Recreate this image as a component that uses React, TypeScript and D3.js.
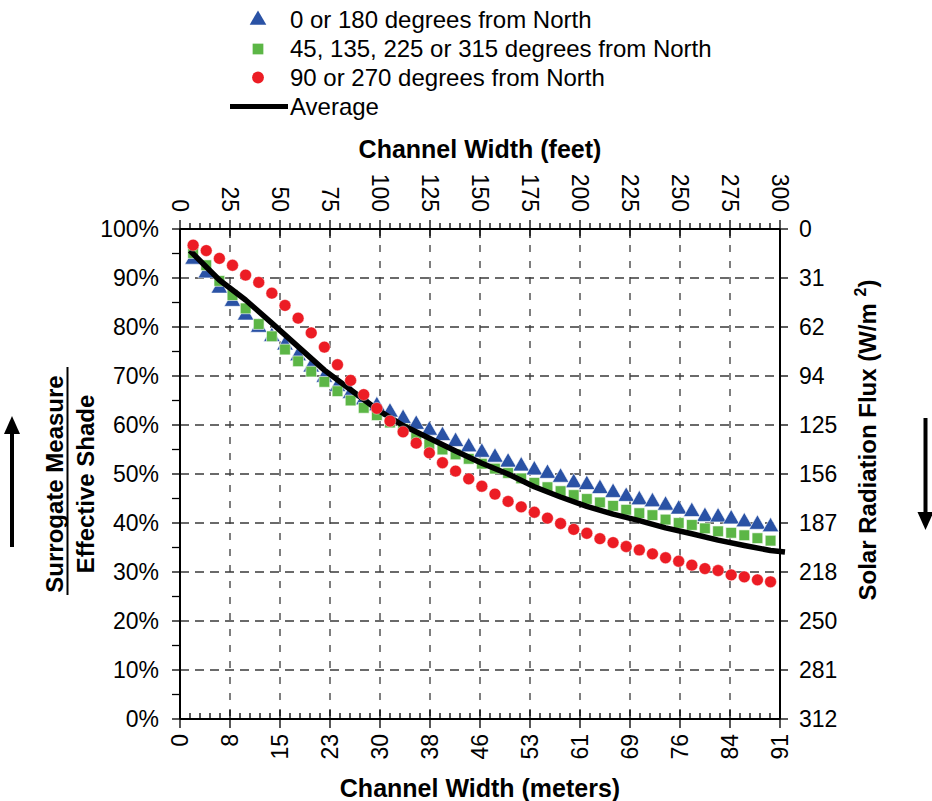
import React, { useEffect, useRef } from 'react';
import * as d3 from 'd3';

// channel width of each marker, meters
const meters = [2, 4, 6, 8, 10, 12, 14, 16, 18, 20, 22, 24, 26, 28, 30, 32, 34, 36, 38, 40, 42, 44, 46,
  48, 50, 52, 54, 56, 58, 60, 62, 64, 66, 68, 70, 72, 74, 76, 78, 80, 82, 84, 86, 88, 90];

// effective shade (%) by orientation
const northSouth = [93.8, 91.0, 87.9, 85.2, 82.4, 79.9, 78.0, 76.3, 74.1, 71.8, 69.7, 67.8, 66.4, 65.1, 63.9,
  62.6, 61.3, 60.1, 58.9, 57.8, 56.6, 55.5, 54.4, 53.4, 52.4, 51.6, 50.8, 50.1, 49.3, 48.2, 47.8, 47.0, 46.2,
  45.4, 44.7, 44.3, 43.6, 42.8, 42.3, 41.3, 41.2, 40.8, 40.2, 39.7, 39.2];
const diagonal = [95.1, 92.6, 89.4, 86.5, 83.8, 80.6, 78.1, 75.4, 73.0, 70.9, 68.8, 66.9, 65.0, 63.5, 62.0,
  60.5, 59.2, 57.4, 56.1, 55.0, 54.0, 53.1, 52.1, 51.1, 50.2, 49.1, 48.2, 47.3, 46.5, 45.7, 44.9, 44.2, 43.5,
  42.7, 42.0, 41.6, 40.7, 40.0, 39.6, 38.9, 38.3, 38.0, 37.5, 36.9, 36.4];
const eastWest = [96.7, 95.6, 94.0, 92.6, 90.6, 89.1, 86.9, 84.4, 81.8, 78.8, 75.9, 72.3, 69.1, 66.2, 63.4,
  60.8, 58.6, 56.3, 54.3, 52.3, 50.6, 49.0, 47.5, 45.9, 44.4, 43.3, 42.2, 41.0, 39.9, 38.7, 37.9, 36.8, 36.0,
  35.2, 34.5, 33.7, 32.9, 32.2, 31.4, 30.7, 30.3, 29.4, 29.0, 28.4, 28.0];

// average line
const avgMeters = [1.5, 6, 10, 14, 18, 22, 26, 30, 34, 38, 42, 46, 50, 54, 58, 62, 66, 70, 74, 78, 82, 86, 90, 92.2];
const avgShade = [95.6, 89.6, 85.5, 80.8, 76.0, 71.2, 67.2, 63.2, 59.9, 57.3, 54.7, 52.2, 50.0, 47.4, 45.3,
  43.4, 41.8, 40.5, 39.0, 37.8, 36.5, 35.4, 34.4, 34.1];

// axes
const feetTicks = [0, 25, 50, 75, 100, 125, 150, 175, 200, 225, 250, 275, 300];
const meterLabels = ['0', '8', '15', '23', '30', '38', '46', '53', '61', '69', '76', '84', '91'];
const pctTicks = [0, 10, 20, 30, 40, 50, 60, 70, 80, 90, 100];
// right axis, top to bottom
const fluxLabels = ['0', '31', '62', '94', '125', '156', '187', '218', '250', '281', '312'];

const legendLabels = ['0 or 180 degrees from North', '45, 135, 225 or 315 degrees from North',
  '90 or 270 degrees from North', 'Average'];

const FONT = "'Liberation Sans', Arial, Helvetica, sans-serif";
const BLUE = '#2a52a5';
const GREEN = '#5cb646';
const RED = '#ec1c24';

const App = () => {
  const chartRef = useRef<SVGSVGElement>(null);

  useEffect(() => {
    document.body.style.margin = '0';
    const width = 932;
    const height = 801;
    const plot = { left: 180, right: 780, top: 229, bottom: 719 };

    const svg = d3.select(chartRef.current)
      .attr('width', width)
      .attr('height', height)
      .style('font-family', FONT);
    svg.selectAll('*').remove();

    const x = d3.scaleLinear().domain([0, 300]).range([plot.left, plot.right]);
    const y = d3.scaleLinear().domain([0, 100]).range([plot.bottom, plot.top]);
    const yFlux = d3.scalePoint<string>().domain(fluxLabels).range([plot.top, plot.bottom]);
    const xm = (m: number) => x(m / 0.3048);

    // grid
    svg.append('g').selectAll('line')
      .data(feetTicks.slice(1, -1))
      .join('line')
      .attr('x1', d => x(d)).attr('x2', d => x(d))
      .attr('y1', plot.top).attr('y2', plot.bottom)
      .attr('stroke', '#3a3a3a').attr('stroke-width', 1.3)
      .attr('stroke-dasharray', '7,9');
    svg.append('g').selectAll('line')
      .data(pctTicks.slice(1, -1))
      .join('line')
      .attr('x1', plot.left).attr('x2', plot.right)
      .attr('y1', d => y(d)).attr('y2', d => y(d))
      .attr('stroke', '#3a3a3a').attr('stroke-width', 1.3)
      .attr('stroke-dasharray', '9,6');

    // axis lines
    const frame = svg.append('g').attr('stroke', '#000').attr('stroke-width', 2);
    frame.append('line').attr('x1', plot.left).attr('x2', plot.right).attr('y1', plot.top).attr('y2', plot.top);
    frame.append('line').attr('x1', plot.left).attr('x2', plot.right).attr('y1', plot.bottom).attr('y2', plot.bottom);
    frame.append('line').attr('x1', plot.left).attr('x2', plot.left).attr('y1', plot.top).attr('y2', plot.bottom);
    frame.append('line').attr('x1', plot.right).attr('x2', plot.right).attr('y1', plot.top).attr('y2', plot.bottom);

    // minor feet ticks every 5 ft
    const minorFeet = d3.range(0, 301, 5).filter(f => f % 25 !== 0);
    const ticks = svg.append('g').attr('stroke', '#000').attr('stroke-width', 1.3);
    minorFeet.forEach(f => {
      ticks.append('line').attr('x1', x(f)).attr('x2', x(f)).attr('y1', plot.top - 6).attr('y2', plot.top);
      ticks.append('line').attr('x1', x(f)).attr('x2', x(f)).attr('y1', plot.bottom - 6).attr('y2', plot.bottom);
    });
    feetTicks.forEach(f => {
      ticks.append('line').attr('x1', x(f)).attr('x2', x(f)).attr('y1', plot.top - 9).attr('y2', plot.top + 9);
      ticks.append('line').attr('x1', x(f)).attr('x2', x(f)).attr('y1', plot.bottom - 9).attr('y2', plot.bottom + 9);
    });
    d3.range(0, 101, 5).forEach(p => {
      ticks.append('line').attr('x1', plot.left - 8).attr('x2', plot.left).attr('y1', y(p)).attr('y2', y(p));
    });
    fluxLabels.forEach(f => {
      ticks.append('line').attr('x1', plot.right).attr('x2', plot.right + 8)
        .attr('y1', yFlux(f)!).attr('y2', yFlux(f)!);
    });

    // tick labels
    const labels = svg.append('g').attr('font-size', 23).attr('fill', '#000');
    labels.selectAll('text.top')
      .data(feetTicks)
      .join('text')
      .attr('class', 'top')
      .attr('transform', d => `translate(${x(d)},${plot.top - 17}) rotate(90)`)
      .attr('text-anchor', 'end')
      .attr('dy', '0.35em')
      .text(d => d);
    labels.selectAll('text.bottom')
      .data(feetTicks)
      .join('text')
      .attr('class', 'bottom')
      .attr('transform', d => `translate(${x(d)},${plot.bottom + 15}) rotate(-90)`)
      .attr('text-anchor', 'end')
      .attr('dy', '0.35em')
      .text((_, i) => meterLabels[i]);
    labels.selectAll('text.left')
      .data(pctTicks)
      .join('text')
      .attr('class', 'left')
      .attr('x', plot.left - 21)
      .attr('y', d => y(d))
      .attr('text-anchor', 'end')
      .attr('dy', '0.35em')
      .text(d => `${d}%`);
    labels.selectAll('text.right')
      .data(fluxLabels)
      .join('text')
      .attr('class', 'right')
      .attr('x', plot.right + 19)
      .attr('y', d => yFlux(d)!)
      .attr('dy', '0.35em')
      .text(d => d);

    // axis titles
    const titles = svg.append('g').attr('font-size', 25).attr('font-weight', 'bold').attr('fill', '#000');
    titles.append('text').attr('x', 480).attr('y', 158).attr('text-anchor', 'middle').text('Channel Width (feet)');
    titles.append('text').attr('x', 480).attr('y', 797).attr('text-anchor', 'middle').text('Channel Width (meters)');
    titles.append('text').attr('font-size', 24).attr('text-anchor', 'middle')
      .attr('transform', 'translate(63,484) rotate(-90)').text('Surrogate Measure');
    titles.append('text').attr('font-size', 24).attr('text-anchor', 'middle')
      .attr('transform', 'translate(94,484) rotate(-90)').text('Effective Shade');
    svg.append('line').attr('x1', 67.5).attr('x2', 67.5).attr('y1', 367).attr('y2', 595)
      .attr('stroke', '#000').attr('stroke-width', 2);
    const flux = titles.append('text').attr('font-size', 24).attr('text-anchor', 'middle')
      .attr('transform', 'translate(876,440) rotate(-90)');
    flux.append('tspan').text('Solar Radiation Flux (W/m ');
    flux.append('tspan').attr('font-size', 16).attr('dy', '-0.6em').text('2');
    flux.append('tspan').attr('dy', '0.4em').text(')');

    // arrows
    const arrows = svg.append('g').attr('fill', '#000').attr('stroke', '#000');
    arrows.append('line').attr('x1', 12).attr('x2', 12).attr('y1', 547).attr('y2', 432).attr('stroke-width', 4);
    arrows.append('path').attr('d', 'M12,416 L4,434 L20,434 Z').attr('stroke', 'none');
    arrows.append('line').attr('x1', 925.5).attr('x2', 925.5).attr('y1', 418).attr('y2', 514).attr('stroke-width', 4);
    arrows.append('path').attr('d', 'M925.5,530 L917.5,512 L933.5,512 Z').attr('stroke', 'none');

    // series
    const tri = d3.symbol().type(d3.symbolTriangle).size(120)();
    const sq = d3.symbol().type(d3.symbolSquare).size(115)();
    const dot = d3.symbol().type(d3.symbolCircle).size(110)();

    svg.append('g').selectAll('path')
      .data(meters)
      .join('path')
      .attr('d', tri)
      .attr('transform', (d, i) => `translate(${xm(d)},${y(northSouth[i])})`)
      .attr('fill', BLUE).attr('stroke', '#fff').attr('stroke-width', 0.6);
    svg.append('g').selectAll('path')
      .data(meters)
      .join('path')
      .attr('d', sq)
      .attr('transform', (d, i) => `translate(${xm(d)},${y(diagonal[i])})`)
      .attr('fill', GREEN).attr('stroke', '#fff').attr('stroke-width', 0.6);

    const line = d3.line<number>()
      .x(d => xm(d))
      .y((_, i) => y(avgShade[i]));
    svg.append('path')
      .datum(avgMeters)
      .attr('d', line)
      .attr('fill', 'none').attr('stroke', '#000').attr('stroke-width', 5.5)
      .attr('stroke-linejoin', 'round');

    svg.append('g').selectAll('path')
      .data(meters)
      .join('path')
      .attr('d', dot)
      .attr('transform', (d, i) => `translate(${xm(d)},${y(eastWest[i])})`)
      .attr('fill', RED).attr('stroke', '#fff').attr('stroke-width', 0.4);

    // legend
    const legend = svg.append('g');
    const rows = [20, 49, 77.5, 106.5];
    legend.append('path').attr('d', tri).attr('transform', `translate(258,${rows[0]})`).attr('fill', BLUE);
    legend.append('path').attr('d', sq).attr('transform', `translate(258,${rows[1]})`).attr('fill', GREEN);
    legend.append('path').attr('d', dot).attr('transform', `translate(258,${rows[2]})`).attr('fill', RED);
    legend.append('line').attr('x1', 230).attr('x2', 288).attr('y1', rows[3]).attr('y2', rows[3])
      .attr('stroke', '#000').attr('stroke-width', 5);
    legend.selectAll('text')
      .data(legendLabels)
      .join('text')
      .attr('x', 290)
      .attr('y', (_, i) => rows[i])
      .attr('dy', '0.34em')
      .attr('font-size', 24)
      .text(d => d);
  }, []);

  return (
    <svg ref={chartRef} style={{ display: 'block' }}></svg>
  );
};

export default App;
